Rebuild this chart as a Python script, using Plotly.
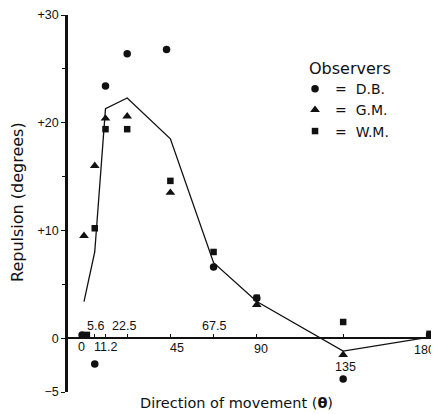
import plotly.graph_objects as go

# Direction of movement (deg) and repulsion (deg)
line_theta = [0, 5.6, 11.2, 22.5, 45, 67.5, 90, 135, 180]
line_mean = [3.4, 8.0, 21.3, 22.3, 18.5, 7.0, 3.4, -1.2, 0.1]

db_theta = [-1, 5.6, 11.2, 22.5, 43, 67.5, 90, 135, 180]
db_vals = [0.3, -2.4, 23.4, 26.4, 26.8, 6.6, 3.7, -3.8, 0.3]

gm_theta = [0, 5.6, 11.2, 22.5, 45, 90, 135]
gm_vals = [9.5, 16.0, 20.4, 20.6, 13.5, 3.1, -1.55]

wm_theta = [1.5, 5.6, 11.2, 22.5, 45, 67.5, 90, 135, 180]
wm_vals = [0.3, 10.2, 19.4, 19.4, 14.6, 8.0, 3.75, 1.5, 0.4]

x_tick_vals = [5.6, 11.2, 22.5, 45, 67.5, 90, 135, 180]
x_tick_labels = ["0", "5.6", "11.2", "22.5", "45", "67.5", "90", "135", "180"]
x_label_vals = [0, 5.6, 11.2, 22.5, 45, 67.5, 90, 135, 180]
y_tick_vals = [-5, 0, 10, 20, 30]
y_tick_labels = ["\u22125", "0", "+10", "+20", "+30"]
y_minor_vals = [5, 15, 25]

INK = "#111111"
TICKFONT = dict(family="Liberation Sans, Arial, sans-serif", size=12.5, color=INK)
TEXTFONT = dict(family="DejaVu Sans, sans-serif", color=INK)

fig = go.Figure()
fig.add_trace(go.Scatter(x=line_theta, y=line_mean, mode="lines",
                         line=dict(color=INK, width=1.3), showlegend=False,
                         cliponaxis=False))
fig.add_trace(go.Scatter(x=db_theta, y=db_vals, mode="markers", name="=\u00a0\u00a0D.B.",
                         marker=dict(symbol="circle", size=7.5, color=INK), cliponaxis=False))
fig.add_trace(go.Scatter(x=gm_theta, y=gm_vals, mode="markers", name="=\u00a0\u00a0G.M.",
                         marker=dict(symbol="triangle-up", size=8.5, color=INK), cliponaxis=False))
fig.add_trace(go.Scatter(x=wm_theta, y=wm_vals, mode="markers", name="=\u00a0\u00a0W.M.",
                         marker=dict(symbol="square", size=6.5, color=INK), cliponaxis=False))

# x tick labels (placed above/below the axis line as in the original)
label_pos = {
    "0": (-2, -9), "5.6": (1, 12), "11.2": (0, -9), "22.5": (-3, 12),
    "45": (7, -10), "67.5": (0, 12), "90": (4, -11), "135": (2, -29),
}
annotations = []
for v, t in zip(x_label_vals, x_tick_labels):
    if t == "180":
        annotations.append(dict(x=v, y=0, xref="x", yref="y", text=t, showarrow=False,
                                xanchor="right", yanchor="middle", xshift=7, yshift=-12,
                                font=TICKFONT))
    else:
        xs, ys = label_pos[t]
        annotations.append(dict(x=v, y=0, xref="x", yref="y", text=t, showarrow=False,
                                xanchor="center", yanchor="middle", xshift=xs, yshift=ys,
                                font=TICKFONT))

annotations += [
    dict(x=-0.1384, y=0.5053, xref="paper", yref="paper", text="Repulsion (degrees)",
         textangle=-90, showarrow=False, xanchor="center", yanchor="middle",
         font=dict(size=16, **TEXTFONT)),
    dict(x=0.4616, y=-0.029, xref="paper", yref="paper",
         text="Direction of movement (<b>\u03b8</b>)", showarrow=False,
         xanchor="center", yanchor="middle", font=dict(size=14.5, **TEXTFONT)),
    dict(x=0.6548, y=0.857, xref="paper", yref="paper", text="Observers",
         showarrow=False, xanchor="left", yanchor="middle", font=dict(size=16, **TEXTFONT)),
]

# The page body has an 8px margin, so the figure is sized to fill the rest of the window.
fig.update_layout(
    width=431, height=406,
    margin=dict(l=60, r=6, t=7, b=22, autoexpand=False),
    paper_bgcolor="white", plot_bgcolor="white",
    annotations=annotations,
    legend=dict(x=0.622, y=0.846, xanchor="left", yanchor="top",
                font=dict(size=14, **TEXTFONT), bgcolor="rgba(0,0,0,0)",
                itemwidth=30),
)
fig.update_xaxes(range=[-8.33, 181.8], anchor="free", position=5 / 35,
                 showline=True, linecolor=INK, linewidth=1.6,
                 ticks="inside", ticklen=3, tickcolor=INK, tickwidth=1,
                 tickmode="array", tickvals=x_tick_vals, showticklabels=False,
                 showgrid=False, zeroline=False, automargin=False)
fig.update_yaxes(range=[-5, 30], showline=True, linecolor=INK, linewidth=2.5,
                 ticks="outside", ticklen=4, tickcolor=INK, tickwidth=1.2,
                 tickmode="array", tickvals=y_tick_vals, ticktext=y_tick_labels,
                 tickfont=TICKFONT, automargin=False,
                 minor=dict(tickmode="array", tickvals=y_minor_vals, ticks="outside",
                            ticklen=3, tickcolor=INK, tickwidth=1),
                 showgrid=False, zeroline=False)

fig.write_html("out.html")
